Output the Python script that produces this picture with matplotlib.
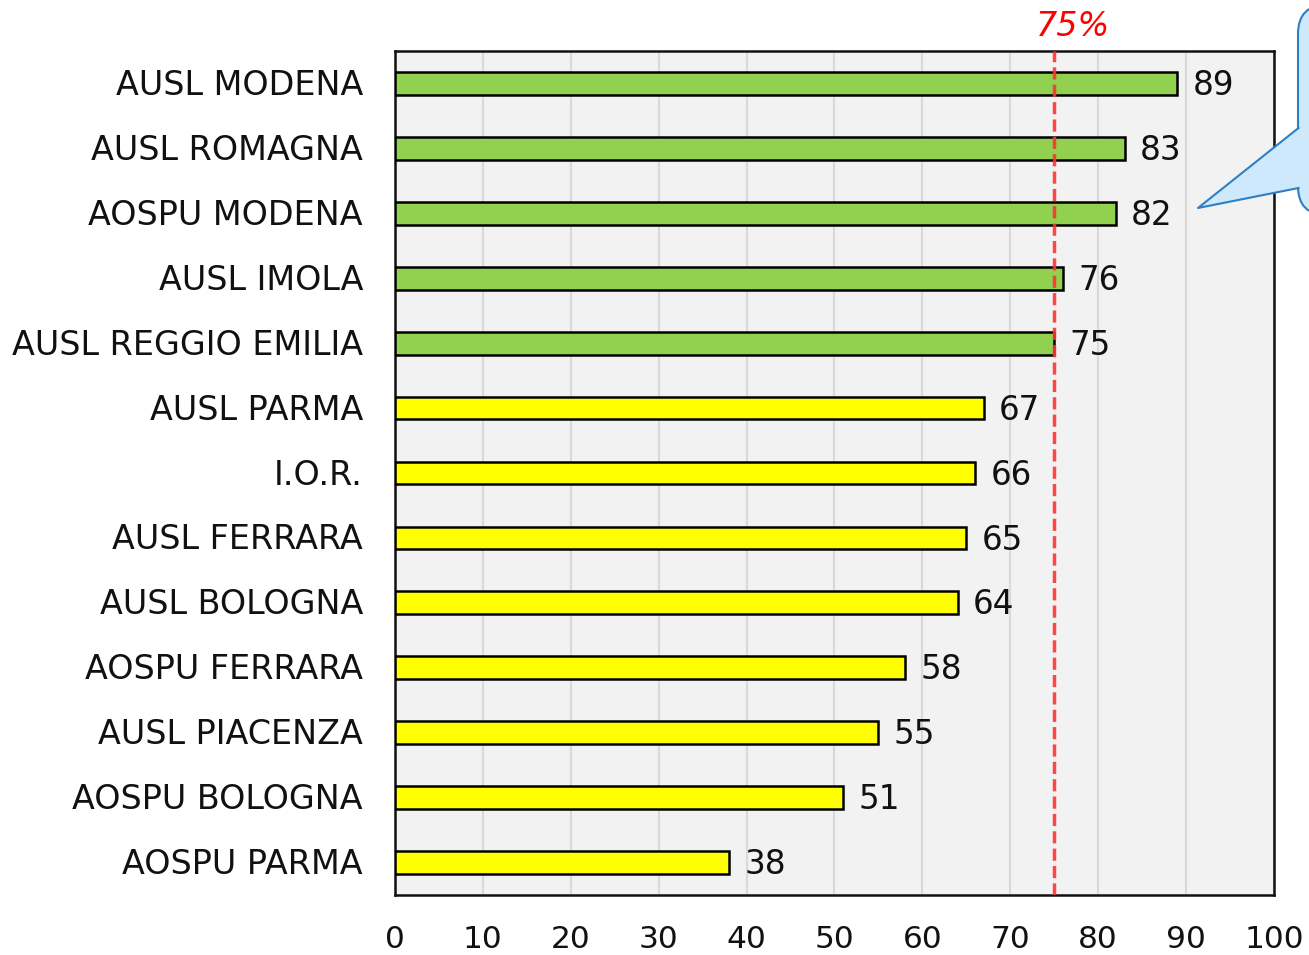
import matplotlib
matplotlib.use("Agg")
import matplotlib.pyplot as plt
import matplotlib.transforms as mtransforms
from matplotlib.patches import FancyBboxPatch, Polygon
from matplotlib.lines import Line2D

plt.rcParams["font.family"] = ["DejaVu Sans"]

categories = ["AUSL MODENA", "AUSL ROMAGNA", "AOSPU MODENA", "AUSL IMOLA",
              "AUSL REGGIO EMILIA", "AUSL PARMA", "I.O.R.", "AUSL FERRARA",
              "AUSL BOLOGNA", "AOSPU FERRARA", "AUSL PIACENZA", "AOSPU BOLOGNA",
              "AOSPU PARMA"]
values = [89, 83, 82, 76, 75, 67, 66, 65, 64, 58, 55, 51, 38]
threshold = 75
x_ticks = [0, 10, 20, 30, 40, 50, 60, 70, 80, 90, 100]

W, H = 1309, 955
fig = plt.figure(figsize=(W / 100, H / 100), dpi=100)
ax = fig.add_axes([395 / W, 1 - 895 / H, (1274 - 395) / W, (895 - 51) / H])
ax.set_facecolor("#f2f2f2")

colors = ["#92d050" if v >= threshold else "#ffff00" for v in values]
ypos = list(range(len(categories)))
ax.barh(ypos, values, height=0.35, color=colors, edgecolor="black",
        linewidth=1.8, zorder=3)
for y, v in zip(ypos, values):
    ax.annotate(str(v), (v, y), xytext=(11, -1.5), textcoords="offset points",
                va="center", ha="left", fontsize=23.5, color="#111111")

ax.set_xlim(0, 100)
ax.set_ylim(len(categories) - 0.5, -0.5)
ax.set_yticks(ypos)
ax.set_yticklabels(categories)
ax.set_xticks(x_ticks)
ax.tick_params(axis="both", length=0, colors="#111111")
ax.tick_params(axis="y", labelsize=24, pad=23)
ax.tick_params(axis="x", labelsize=22.5, pad=21.5)
shift = mtransforms.ScaledTranslation(0, -2 / 100, fig.dpi_scale_trans)
for lab in ax.get_yticklabels():
    lab.set_va("center")
    lab.set_transform(lab.get_transform() + shift)
ax.grid(axis="x", color="#d9d9d9", linewidth=1.5, zorder=0)
ax.set_axisbelow(True)
for s in ax.spines.values():
    s.set_linewidth(1.8)
    s.set_color("#111111")

ax.axvline(threshold, color="#ff3333", linestyle=(0, (3.5, 1.5)), linewidth=2.5,
           zorder=4, alpha=0.9)
ax.annotate("75%", (threshold, -0.5), xytext=(13.5, 18),
            textcoords="offset points", ha="center", va="center",
            color="#ff0000", fontsize=24, style="italic",
            annotation_clip=False)

def f(px, py):
    return (px / W, 1 - py / H)

edge = "#2e7fc4"
fill = "#cde9fb"
x0, y0 = f(1298, 215)
x1, y1 = f(1380, 5)
box = FancyBboxPatch((x0, y0), x1 - x0, y1 - y0,
                     boxstyle="round,pad=0,rounding_size=0.022",
                     transform=fig.transFigure, facecolor=fill,
                     edgecolor=edge, linewidth=1.5, mutation_aspect=W / H)
fig.patches.append(box)
tail = Polygon([f(1300, 128), f(1198, 208), f(1300, 188)], closed=True,
               transform=fig.transFigure, facecolor=fill, edgecolor="none")
fig.patches.append(tail)
px_ = [1298.5, 1198, 1298.5]
py_ = [128, 208, 188]
fig.lines.append(Line2D([p / W for p in px_], [1 - q / H for q in py_],
                        transform=fig.transFigure, color=edge, linewidth=1.5))

fig.savefig("out.png", dpi=100)
